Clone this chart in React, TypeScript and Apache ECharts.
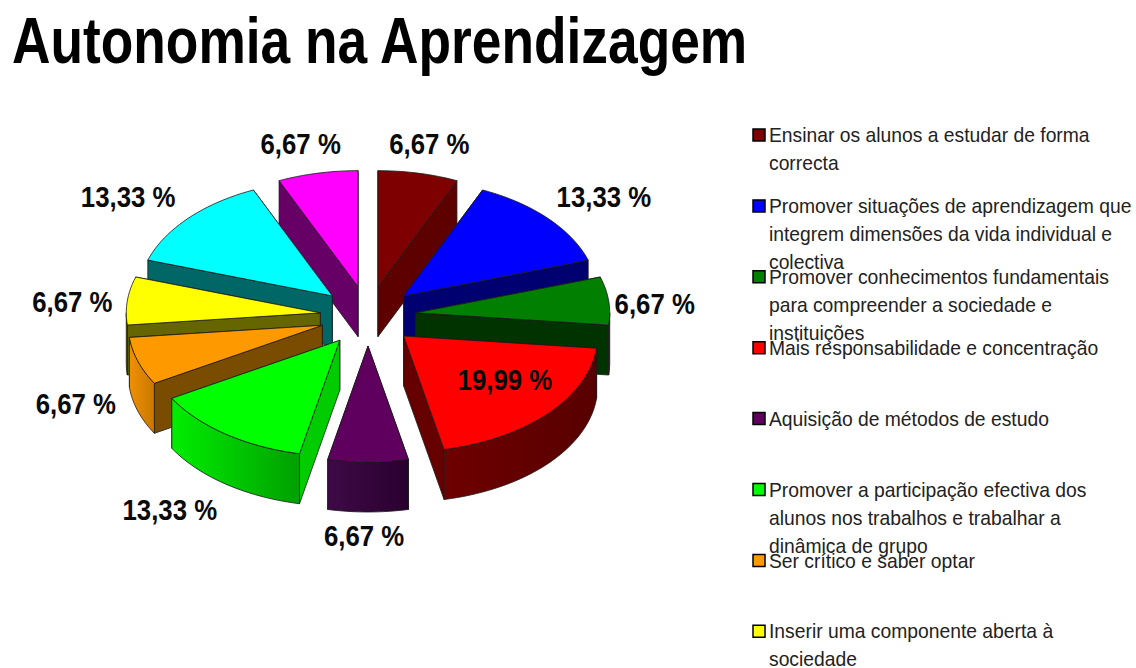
import React, { useEffect, useRef } from "react";
import * as echarts from "echarts";

const TITLE = "Autonomia na Aprendizagem";
const NAMES = [
  "Ensinar os alunos a estudar de forma\ncorrecta",
  "Promover situações de aprendizagem que\nintegrem dimensões da vida individual e\ncolectiva",
  "Promover conhecimentos fundamentais\npara compreender a sociedade e\ninstituições",
  "Mais responsabilidade e concentração",
  "Aquisição de métodos de estudo",
  "Promover a participação efectiva dos\nalunos nos trabalhos e trabalhar a\ndinâmica de grupo",
  "Ser crítico e saber optar",
  "Inserir uma componente aberta à\nsociedade",
];
const VALUES = [6.67, 13.33, 6.67, 19.99, 6.67, 13.33, 6.67, 6.67, 13.33, 6.67];
const LABELS = ["6,67 %", "13,33 %", "6,67 %", "19,99 %", "6,67 %", "13,33 %", "6,67 %", "6,67 %", "13,33 %", "6,67 %"];

const TOP_COLORS = ["#7f0000", "#0000ff", "#007f00", "#ff0000", "#5f005f", "#00ff00", "#ff9900", "#ffff00", "#00ffff", "#ff00ff"];
const WALL_COLORS = ["#5e0000", "#000070", "#003300", "#660000", "#3a003a", "#00cc00", "#7a4c00", "#666600", "#006666", "#660066"];
const RIM_LEFT = ["#5e0000", "#000070", "#003300", "#6e0000", "#3e0a46", "#00ee00", "#f09000", "#807f00", "#006666", "#660066"];
const RIM_RIGHT = ["#5e0000", "#000070", "#003300", "#580000", "#2a0030", "#00a000", "#c87800", "#666600", "#006666", "#660066"];
const LABEL_NUDGE = [[11, -29], [56, -22], [46, 3], [-43, -34], [-4, 74], [-56, 76], [-62, 43], [-55, 1], [-60, -22], [-17, -29]];

const CX = 368, CY = 316, RX = 194, RY = 116, EX = 48, EY = 30, DEPTH = 50;
const FONT = '"Liberation Sans", Arial, sans-serif';

const total = VALUES.reduce((a, b) => a + b, 0);
const slices = (() => {
  let acc = 0;
  return VALUES.map((v, i) => {
    const a0 = (acc / total) * 360;
    acc += v;
    const a1 = (acc / total) * 360;
    return { i, a0, a1, mid: (a0 + a1) / 2 };
  });
})();
const rad = (d: number) => (d * Math.PI) / 180;
const paintOrder = [...slices].sort((p, q) => -Math.cos(rad(p.mid)) + Math.cos(rad(q.mid)));

function renderSlice(params: any) {
  const s = paintOrder[params.dataIndex];
  const ax = CX + EX * Math.sin(rad(s.mid));
  const ay = CY - EY * Math.cos(rad(s.mid));
  const rim = (d: number, drop = 0) => [ax + RX * Math.sin(rad(d)), ay - RY * Math.cos(rad(d)) + drop];
  const arc = (from: number, to: number, drop = 0) => {
    const n = Math.max(2, Math.ceil((to - from) / 2));
    const pts: number[][] = [];
    for (let k = 0; k <= n; k++) pts.push(rim(from + ((to - from) * k) / n, drop));
    return pts;
  };
  const line = { stroke: "#1a1a1a", lineWidth: 0.8 };
  const wall = (d: number) => ({
    type: "polygon",
    shape: { points: [[ax, ay], rim(d), rim(d, DEPTH), [ax, ay + DEPTH]] },
    style: { fill: WALL_COLORS[s.i], ...line },
  });
  const walls = s.mid < 180 ? [wall(s.a0), wall(s.a1)] : [wall(s.a1), wall(s.a0)];
  const children: any[] = [...walls];
  const f = Math.max(s.a0, 90), t = Math.min(s.a1, 270);
  if (t > f) {
    children.push({
      type: "polygon",
      shape: { points: [...arc(f, t), ...arc(f, t, DEPTH).reverse()] },
      style: {
        fill: {
          type: "linear", x: 0, y: 0, x2: 1, y2: 0,
          colorStops: [{ offset: 0, color: RIM_LEFT[s.i] }, { offset: 1, color: RIM_RIGHT[s.i] }],
        },
        ...line,
      },
    });
  }
  children.push({
    type: "polygon",
    shape: { points: [[ax, ay], ...arc(s.a0, s.a1)] },
    style: { fill: TOP_COLORS[s.i], ...line },
  });
  const edge = [ax + RX * Math.sin(rad(s.mid)), ay - RY * Math.cos(rad(s.mid))];
  children.push({
    type: "text",
    x: edge[0] + LABEL_NUDGE[s.i][0],
    y: edge[1] + LABEL_NUDGE[s.i][1],
    scaleX: 0.86,
    style: {
      text: LABELS[s.i],
      x: 0,
      y: 0,
      fill: "#0a0a0a",
      font: `bold 30px ${FONT}`,
      align: "center",
      verticalAlign: "middle",
    },
  });
  return { type: "group", children };
}

const LEGEND_X = 753, LEGEND_Y0 = 135, LEGEND_STEP = 70.9, LEGEND_LINE = 28;
const legendGraphics = NAMES.flatMap((name, i) => {
  const y = LEGEND_Y0 + i * LEGEND_STEP;
  return [
    {
      type: "rect",
      shape: { x: LEGEND_X, y: y - 6, width: 12, height: 12 },
      style: { fill: TOP_COLORS[i], stroke: "#000", lineWidth: 1.5 },
    },
    ...name.split("\n").map((text, k) => ({
      type: "text",
      x: 769,
      y: y + k * LEGEND_LINE,
      scaleX: 0.965,
      style: {
        text,
        fill: "#222",
        font: `20px ${FONT}`,
        lineHeight: 18,
        align: "left",
        verticalAlign: "middle",
      },
    })),
  ];
});

const titleGraphic = {
  type: "text",
  x: 12,
  y: 8,
  scaleX: 0.82,
  style: {
    text: TITLE,
    fill: "#000",
    font: `bold 65px ${FONT}`,
    align: "left",
    verticalAlign: "top",
  },
};

export default function App() {
  const ref = useRef<HTMLDivElement>(null);
  useEffect(() => {
    const chart = echarts.init(ref.current!, null, { renderer: "svg" });
    chart.setOption({
      animation: false,
      backgroundColor: "#fff",
      graphic: [titleGraphic, ...legendGraphics],
      series: [
        {
          type: "custom",
          coordinateSystem: "none",
          silent: true,
          clip: false,
          data: paintOrder.map((s) => VALUES[s.i]),
          renderItem: renderSlice,
        },
      ],
    });
    return () => chart.dispose();
  }, []);
  return <div ref={ref} style={{ position: "fixed", left: 0, top: 0, width: 1136, height: 668 }} />;
}
